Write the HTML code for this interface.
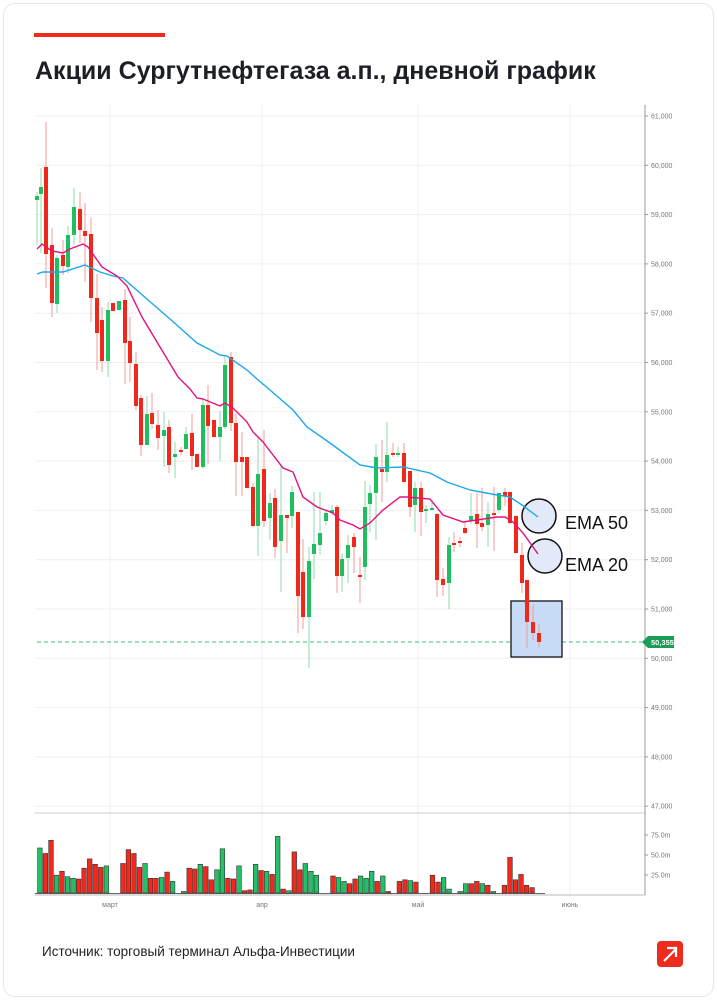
<!DOCTYPE html>
<html><head><meta charset="utf-8"><style>
html,body{margin:0;padding:0;background:#fff;}
body{width:717px;height:1000px;position:relative;overflow:hidden;font-family:"Liberation Sans","DejaVu Sans",sans-serif;}
.card{position:absolute;left:3px;top:3px;width:709px;height:992px;border:1px solid #e6e6e6;border-radius:12px;}
.bar{position:absolute;left:34px;top:33px;width:131px;height:4px;background:#ef2b1e;}
.title{position:absolute;left:35px;top:57px;font-size:25px;font-weight:bold;color:#1c1f26;letter-spacing:0px;white-space:nowrap;}
.src{position:absolute;left:42px;top:944px;font-size:13.5px;color:#222;}
.logo{position:absolute;left:657px;top:941px;width:26px;height:26px;background:#ef2b1e;border-radius:4px;}
svg{position:absolute;left:0;top:0;}
</style></head><body>
<div class="card"></div>
<div class="bar"></div>
<div class="title">Акции Сургутнефтегаза а.п., дневной график</div>
<div class="src">Источник: торговый терминал Альфа-Инвестиции</div>
<div class="logo"><svg width="26" height="26" viewBox="0 0 26 26"><path d="M7 20 L19 8 M10 7 H19 V16" stroke="#fff" stroke-width="2.2" fill="none"/></svg></div>
<svg id="c" width="717" height="1000" xmlns="http://www.w3.org/2000/svg" font-family="Liberation Sans, sans-serif"></svg>
<script>
var s=[];
function add(t){s.push(t);}
for(var p=61;p>=47;p--){var y=116+(61-p)*49.3;add('<line x1="35" x2="645" y1="'+y+'" y2="'+y+'" stroke="#efefef"/>');
add('<line x1="645" x2="648" y1="'+y+'" y2="'+y+'" stroke="#999"/>');
add('<text x="651" y="'+(y+2.5)+'" font-size="7" fill="#777">'+p+',000</text>');}
[110,262,418,570].forEach(function(x){add('<line x1="'+x+'" x2="'+x+'" y1="105" y2="895" stroke="#efefef"/>');});
add('<line x1="35" x2="645" y1="813" y2="813" stroke="#ccc"/>');
add('<line x1="35" x2="645" y1="895" y2="895" stroke="#bbb"/>');
add('<line x1="645" x2="645" y1="105" y2="895" stroke="#999"/>');
[['75.0m',835],['50.0m',855],['25.0m',875]].forEach(function(a){add('<line x1="645" x2="648" y1="'+a[1]+'" y2="'+a[1]+'" stroke="#999"/><text x="651" y="'+(a[1]+2.5)+'" font-size="7" fill="#777">'+a[0]+'</text>');});
[['март',110],['апр',262],['май',418],['июнь',570]].forEach(function(a){add('<text x="'+a[1]+'" y="907" font-size="7" fill="#777" text-anchor="middle">'+a[0]+'</text>');});
add('<line x1="37" x2="642" y1="642" y2="642" stroke="#3dbf7a" stroke-dasharray="4,3"/>');
add('<path d="M642 642 L648 636 H674 V648 H648 Z" fill="#1a9e55"/><text x="651" y="645" font-size="7.5" fill="#fff" font-weight="bold">50,355</text>');
var C=[[37,200,196,192,245],[41,194,187,168,253],[46,167,254,122,288],[52,245,303,228,317],[57,304,258,255,313],[63,255,266,240,275],[68,267,235,226,273],[74,235,207,188,245],[80,209,230,192,243],[85,231,236,203,282],[91,234,298,218,322],[97,298,333,274,370],[102,320,361,307,372],[108,361,310,302,377],[113,303,311,303,311],[119,310,301,301,310],[125,300,343,289,384],[130,341,363,317,382],[136,364,406,352,410],[141,398,445,395,456],[147,445,414,396,445],[152,413,424,393,429],[158,425,438,410,450],[164,436,430,412,467],[169,427,465,420,473],[175,457,454,442,478],[181,450,452,447,455],[186,449,434,427,449],[192,433,456,414,470],[197,454,467,454,467],[203,467,405,398,469],[208,405,426,385,464],[214,420,437,420,437],[220,437,427,411,461],[225,427,365,355,429],[231,357,423,352,431],[236,423,462,413,496],[242,457,462,432,496],[247,457,488,457,488],[253,487,526,483,527],[258,526,474,438,556],[264,469,521,430,527],[270,518,503,493,540],[275,498,547,489,558],[281,541,515,466,592],[287,515,518,515,553],[292,516,492,486,528],[298,512,596,512,633],[303,572,617,539,629],[309,617,561,547,668],[314,554,544,492,579],[320,545,533,492,555],[326,521,513,510,525],[332,513,510,505,515],[337,507,576,505,593],[342,576,559,553,592],[348,558,545,535,583],[354,537,547,533,573],[360,575,576,557,603],[365,567,507,481,580],[370,504,493,485,532],[376,493,457,444,540],[382,469,472,440,502],[387,472,455,422,482],[393,453,455,443,457],[398,455,453,447,457],[404,453,482,443,482],[410,471,507,471,517],[415,505,488,482,532],[421,488,512,482,536],[426,511,509,505,523],[432,510,508,500,510],[437,514,580,513,597],[443,579,585,568,596],[449,583,545,537,609],[454,543,545,532,552],[460,541,543,537,547],[465,528,533,522,534],[471,521,516,493,524],[477,514,524,493,548],[482,523,527,488,531],[488,525,514,502,547],[494,513,514,487,551],[499,510,493,493,513],[505,492,496,488,506],[510,492,523,492,524],[516,516,553,516,553],[522,555,583,543,593],[527,580,622,580,648],[533,622,633,605,640],[539,633,642,624,647]];
add('<rect x="511" y="601" width="51" height="56" fill="#c7dbf6" stroke="#111" stroke-width="1.3"/>');
C.forEach(function(c){var up=c[2]<c[1];var col=up?'#1fbf5f':'#f0281b';var wc=up?'#8fdcaa':'#f59a94';
add('<line x1="'+c[0]+'" x2="'+c[0]+'" y1="'+c[3]+'" y2="'+c[4]+'" stroke="'+wc+'" stroke-width="1"/>');
var t=Math.min(c[1],c[2]),h=Math.max(2,Math.abs(c[1]-c[2]));
add('<rect x="'+(c[0]-2)+'" y="'+t+'" width="4" height="'+h+'" fill="'+col+'"/>');});
var e20=[[37,249],[42,244],[46,247],[52,251],[63,253],[70,249],[83,244],[88,247],[102,267],[117,276],[127,286],[142,317],[160,347],[178,377],[190,389],[197,398],[203,399],[220,406],[225,403],[233,408],[247,422],[253,432],[263,442],[273,455],[283,468],[293,472],[303,497],[317,507],[333,513],[340,520],[353,525],[360,529],[370,523],[383,510],[400,497],[407,497],[430,499],[443,515],[463,522],[497,517],[505,517],[513,522],[523,533],[538,554]];
var e50=[[37,274],[43,272],[63,272],[85,265],[100,272],[113,276],[123,278],[140,293],[170,319],[197,343],[220,355],[227,356],[247,370],[257,379],[270,390],[293,410],[307,427],[330,443],[360,465],[377,468],[403,467],[430,473],[447,482],[470,490],[497,495],[510,497],[522,505],[538,517]];
add('<circle cx="539" cy="516" r="17" fill="#e2e9f8" stroke="#111" stroke-width="1.5"/>');
add('<circle cx="545" cy="556" r="17" fill="#e2e9f8" stroke="#111" stroke-width="1.5"/>');
function pl(a,c){return '<polyline fill="none" stroke="'+c+'" stroke-width="1.4" points="'+a.map(function(p){return p.join(',');}).join(' ')+'"/>';}
add(pl(e50,'#1aa9e8'));add(pl(e20,'#e5107f'));
add('<text x="565" y="529" font-size="18" fill="#111">EMA 50</text>');
add('<text x="565" y="571" font-size="18" fill="#111">EMA 20</text>');
var V=[['g',58],['r',51],['r',68],['g',23],['r',28],['g',21],['g',19],['r',18],['r',32],['r',44],['r',37],['r',33],['g',35],['z',0],['z',0],['r',38],['r',56],['r',51],['r',33],['g',38],['r',19],['r',19],['g',20],['r',27],['g',15],['z',0],['g',2],['r',32],['r',31],['g',37],['r',34],['r',17],['g',30],['g',57],['r',19],['r',18],['g',35],['r',3],['r',4],['g',37],['r',29],['g',28],['r',24],['g',73],['r',5],['g',3],['r',53],['r',30],['g',38],['g',28],['g',23],['z',0],['z',0],['r',22],['g',20],['g',15],['r',12],['r',18],['g',22],['g',19],['g',28],['r',15],['g',22],['r',2],['z',0],['r',15],['r',17],['g',16],['r',14],['z',0],['z',0],['r',23],['r',14],['g',20],['g',5],['z',0],['g',2],['g',12],['r',12],['r',15],['g',12],['r',10],['g',2],['z',0],['r',10],['r',46],['r',17],['r',24],['r',10],['r',7]];
V.forEach(function(v,i){if(v[0]=='z')return;var x=37.6+i*5.53,h=v[1]*0.775;
add('<rect x="'+x.toFixed(1)+'" y="'+(893-h).toFixed(1)+'" width="4.6" height="'+h.toFixed(1)+'" fill="'+(v[0]=='g'?'#22c166':'#f2281c')+'" stroke="#333" stroke-width="0.6"/>');});
add('<line x1="35" x2="545" y1="893.5" y2="893.5" stroke="#333" stroke-width="0.8"/>');
document.getElementById('c').innerHTML=s.join('');
</script>
</body></html>
